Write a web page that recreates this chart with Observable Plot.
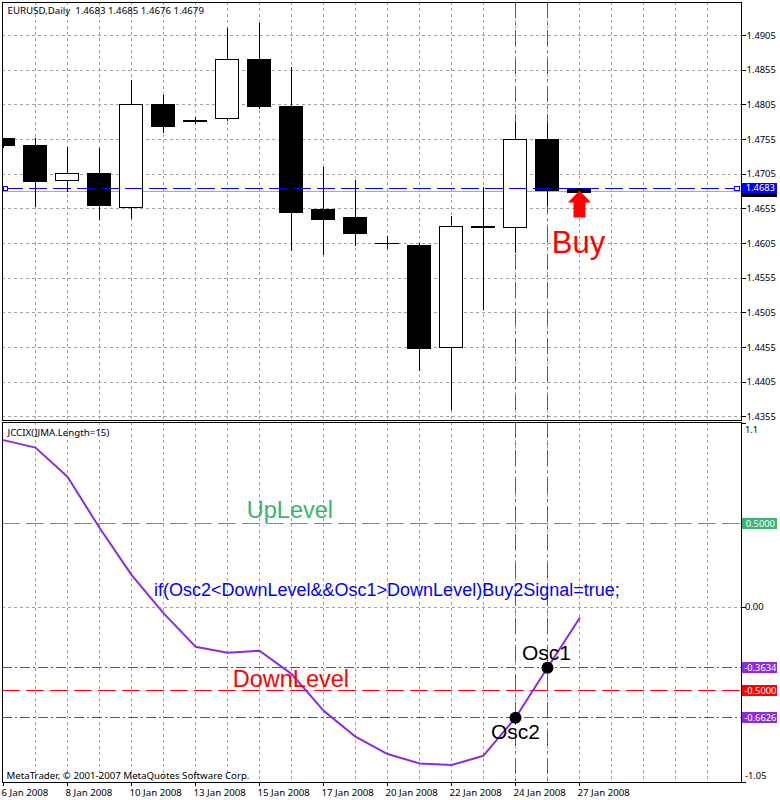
<!DOCTYPE html>
<html><head><meta charset="utf-8">
<script src="https://cdn.jsdelivr.net/npm/d3@7"></script>
<script src="https://cdn.jsdelivr.net/npm/@observablehq/plot@0.6"></script>
<style>html,body{margin:0;padding:0;background:#fff}svg{display:block}</style>
</head><body><div id="chart" style="width:780px"></div>
<script>
const barIndex=[0,1,2,3,4,5,6,7,8,9,10,11,12,13,14,15,16,17,18];
const opens =[1.47551,1.47464,1.46952,1.4706,1.4657,1.48041,1.47824,1.47846,1.4869,1.48026,1.46527,1.46412,1.46051,1.46022,1.44544,1.46275,1.46275,1.47543,1.4683];
const highs =[1.47551,1.47565,1.47435,1.47421,1.48401,1.48185,1.47868,1.49151,1.49223,1.48589,1.47147,1.46959,1.46152,1.46051,1.4644,1.46858,1.47796,1.47781,1.4685];
const lows  =[1.47421,1.4657,1.46786,1.46383,1.46397,1.47637,1.47767,1.4781,1.47983,1.45936,1.45878,1.46008,1.45965,1.4421,1.43643,1.45085,1.45907,1.46589,1.4676];
const closes=[1.47464,1.46931,1.47053,1.46585,1.48041,1.47738,1.47796,1.4869,1.48026,1.46498,1.46397,1.46195,1.46037,1.44523,1.46296,1.46289,1.47543,1.46808,1.46786];
const osc=[1.0,0.955,0.78,0.475,0.193,-0.036,-0.237,-0.273,-0.261,-0.40,-0.62,-0.776,-0.88,-0.936,-0.946,-0.89,-0.6626,-0.3634,-0.0665];
const priceTicks=[1.4905,1.4855,1.4805,1.4755,1.4705,1.4655,1.4605,1.4555,1.4505,1.4455,1.4405,1.4355];
const dateTickIndex=[0,2,4,6,8,10,12,14,16,18];
const dateLabels=["6 Jan 2008","8 Jan 2008","10 Jan 2008","13 Jan 2008","15 Jan 2008","17 Jan 2008","20 Jan 2008","22 Jan 2008","24 Jan 2008","27 Jan 2008"];
const gridIndex=d3.range(1,23);
const signalIndex=[16,17];
const bidPrice=1.4683, askPrice=1.4679;
const upLevel=0.5, downLevel=-0.5, osc1=-0.3634, osc2=-0.6626;
const priceDomain=[1.43499,1.49526], oscDomain=[-1.0503,1.1054], xDomain=[-0.03125,23.0625];
const tagFrom=23.09, tagTo=24.2, tagMid=23.65;
const FONT='"Noto Sans"', NUMSIZE=9.4, GRID="#a3a3a3", VIOLET="#8a2be2", CRISP="crispEdges";
const fmt4=v=>v.toFixed(4);
const candles=barIndex.map(i=>({i,o:opens[i],h:highs[i],l:lows[i],c:closes[i],up:closes[i]>opens[i]}));
const oscData=barIndex.map(i=>({i,v:osc[i]}));
const dates=dateTickIndex.map((i,k)=>({i,label:dateLabels[k]}));
const arrowSymbol={draw(ctx,size){const s=Math.sqrt(size);
  ctx.moveTo(0,0);ctx.lineTo(.5*s,.52*s);ctx.lineTo(.26*s,.52*s);ctx.lineTo(.26*s,1.17*s);ctx.lineTo(-.26*s,1.17*s);ctx.lineTo(-.26*s,.52*s);ctx.lineTo(-.5*s,.52*s);ctx.closePath();}};
const gridStyle={stroke:GRID,strokeWidth:1,strokeDasharray:"3 3",shapeRendering:CRISP};
const vDash="16 5 2 5";
const topPanel=Plot.plot({width:780,height:423,marginLeft:2,marginRight:39,marginTop:2,marginBottom:3,
  style:{fontFamily:FONT,background:"#fff",color:"#000"},
  x:{domain:xDomain,axis:null},y:{domain:priceDomain,axis:null},
  marks:[
    Plot.ruleX(gridIndex,{...gridStyle}),
    Plot.ruleY(priceTicks,{...gridStyle}),
    Plot.ruleX(signalIndex,{stroke:VIOLET,strokeWidth:1,strokeDasharray:vDash,shapeRendering:CRISP}),
    Plot.ruleY([askPrice],{stroke:"#aaaaaa",strokeWidth:1,dy:-1,shapeRendering:CRISP}),
    Plot.ruleX(candles,{x:"i",y1:"l",y2:"h",stroke:"#000",strokeWidth:1,clip:true,shapeRendering:CRISP}),
    Plot.rectY(candles,{x1:d=>d.i-0.36,x2:d=>d.i+0.36,y1:d=>Math.min(d.o,d.c),y2:d=>Math.max(d.o,d.c),fill:d=>d.up?"#fff":"#000",stroke:"#000",strokeWidth:1,clip:true,shapeRendering:CRISP}),
    Plot.ruleY([bidPrice],{x1:0.06,x2:22.92,stroke:"#0000ff",strokeWidth:1,strokeDasharray:"18 6",dy:-1,shapeRendering:CRISP}),
    Plot.dot([0.06,22.92],{x:d=>d,y:()=>bidPrice,symbol:"square",r:2.4,fill:"#fff",stroke:"#0000ff",strokeWidth:1,dy:-1,shapeRendering:CRISP}),
    Plot.dot([{i:18,p:1.46815}],{x:"i",y:"p",symbol:arrowSymbol,r:13,fill:"#ff0000"}),
    Plot.text(["Buy"],{x:17.97,y:1.4605,text:d=>d,fontSize:31,fill:"#ff0000",fontFamily:"Liberation Sans"}),
    Plot.axisY(priceTicks,{anchor:"right",tickSize:4,tickPadding:1,tickFormat:fmt4,fontSize:NUMSIZE,stroke:"#000",label:null,shapeRendering:CRISP}),
    Plot.ruleY([askPrice],{x1:tagFrom,x2:tagTo,stroke:"#000",strokeWidth:9,shapeRendering:CRISP}),
    Plot.ruleY([bidPrice],{x1:tagFrom,x2:tagTo,stroke:"#0000ff",strokeWidth:11,dy:-1,shapeRendering:CRISP}),
    Plot.text([bidPrice],{x:tagMid,y:d=>d,text:fmt4,fill:"#fff",fontSize:NUMSIZE,dy:-1}),
    Plot.text(["EURUSD,Daily  1.4683 1.4685 1.4676 1.4679"],{frameAnchor:"top-left",dx:5,dy:5,text:d=>d,textAnchor:"start",fontSize:9.7,fill:"#000"}),
    Plot.frame({stroke:"#000",strokeWidth:1,shapeRendering:CRISP})
  ]});
const bottomPanel=Plot.plot({width:780,height:379,marginLeft:2,marginRight:39,marginTop:1,marginBottom:18,
  style:{fontFamily:FONT,background:"#fff",color:"#000",marginTop:"-2px",position:"relative"},
  x:{domain:xDomain,axis:null},y:{domain:oscDomain,axis:null},
  marks:[
    Plot.ruleX(gridIndex,{...gridStyle}),
    Plot.ruleY([0],{...gridStyle}),
    Plot.ruleX(signalIndex,{stroke:VIOLET,strokeWidth:1,strokeDasharray:vDash,shapeRendering:CRISP}),
    Plot.ruleY([upLevel],{stroke:"#3cb371",strokeWidth:1,strokeDasharray:"18 6",shapeRendering:CRISP}),
    Plot.ruleY([downLevel],{stroke:"#ff0000",strokeWidth:1,strokeDasharray:"18 6",shapeRendering:CRISP}),
    Plot.ruleY([osc1,osc2],{stroke:VIOLET,strokeWidth:1,strokeDasharray:"10 3 2 3",shapeRendering:CRISP}),
    Plot.line(oscData,{x:"i",y:"v",stroke:VIOLET,strokeWidth:2,clip:true}),
    Plot.dot([{i:16,v:osc2},{i:17,v:osc1}],{x:"i",y:"v",r:6,fill:"#000"}),
    Plot.text(["UpLevel"],{x:8.95,y:0.58,text:d=>d,fontSize:23.5,fill:"#3cb371",fontFamily:"Liberation Sans"}),
    Plot.text(["DownLevel"],{x:8.98,y:-0.435,text:d=>d,fontSize:23.5,fill:"#ff0000",fontFamily:"Liberation Sans"}),
    Plot.text(["if(Osc2<DownLevel&&Osc1>DownLevel)Buy2Signal=true;"],{x:11.98,y:0.103,text:d=>d,fontSize:18,fill:"#0000ff",fontFamily:"Liberation Sans"}),
    Plot.text(["Osc1"],{x:16.97,y:-0.275,text:d=>d,fontSize:21,fill:"#000",fontFamily:"Liberation Sans"}),
    Plot.text(["Osc2"],{x:16,y:-0.75,text:d=>d,fontSize:21,fill:"#000",fontFamily:"Liberation Sans"}),
    Plot.axisX(dateTickIndex,{anchor:"bottom",tickSize:4,fill:"none",stroke:"#000",label:null,shapeRendering:CRISP}),
    Plot.text(dates,{x:"i",frameAnchor:"bottom",dy:13,dx:-2,text:"label",textAnchor:"start",fontSize:9.7,fill:"#000"}),
    Plot.axisY([1.1,0,-1.05],{anchor:"right",tickSize:4,fill:"none",stroke:"#000",label:null,shapeRendering:CRISP}),
    Plot.text(["0.00"],{x:23.17,y:0,text:d=>d,textAnchor:"start",fontSize:NUMSIZE,fill:"#000"}),
    Plot.text(["1.1"],{x:23.17,y:1.06,text:d=>d,textAnchor:"start",fontSize:NUMSIZE,fill:"#000"}),
    Plot.text(["-1.05"],{x:23.17,y:-1.01,text:d=>d,textAnchor:"start",fontSize:NUMSIZE,fill:"#000"}),
    Plot.ruleY([upLevel],{x1:tagFrom,x2:tagTo,stroke:"#3cb371",strokeWidth:11,shapeRendering:CRISP}),
    Plot.ruleY([downLevel],{x1:tagFrom,x2:tagTo,stroke:"#ff0000",strokeWidth:11,shapeRendering:CRISP}),
    Plot.ruleY([osc1,osc2],{x1:tagFrom,x2:tagTo,stroke:VIOLET,strokeWidth:11,shapeRendering:CRISP}),
    Plot.text([upLevel,downLevel,osc1,osc2],{x:tagMid,y:d=>d,text:fmt4,fill:"#fff",fontSize:NUMSIZE}),
    Plot.text(["JCCIX(JJMA.Length=15)"],{frameAnchor:"top-left",dx:5,dy:7,text:d=>d,textAnchor:"start",fontSize:9.7,fill:"#000"}),
    Plot.text(["MetaTrader, © 2001-2007 MetaQuotes Software Corp."],{frameAnchor:"bottom-left",dx:4,dy:-4,text:d=>d,textAnchor:"start",fontSize:9.7,fill:"#000"}),
    Plot.frame({stroke:"#000",strokeWidth:1,shapeRendering:CRISP})
  ]});
document.getElementById("chart").append(topPanel,bottomPanel);
</script></body></html>
